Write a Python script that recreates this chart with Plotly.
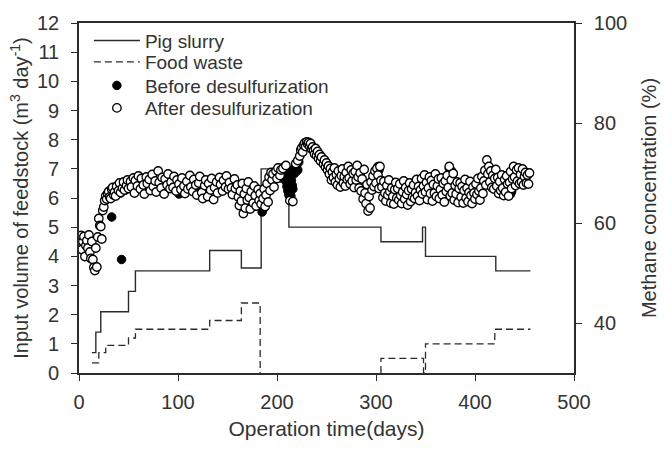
import plotly.graph_objects as go

# ---- Feedstock step series (left axis, m3/day) ----
pig_days = [13, 17, 22, 50, 57, 132, 164, 184, 212, 305, 347, 350, 421, 456]
pig_vol = [0.7, 1.4, 2.1, 2.8, 3.5, 4.2, 3.6, 7.0, 5.0, 4.5, 5.0, 4.0, 3.5, 3.5]

# None marks the period without food waste feeding (line lies on the x axis there)
food_days = [13, 20, 27, 50, 57, 132, 164, 183, 183, 305, 305, 348, 350, 420, 456]
food_vol = [0.35, 0.7, 0.95, 1.2, 1.5, 1.8, 2.4, 0.0, None, 0.0, 0.5, 0.0, 1.0, 1.5, 1.5]

# ---- Methane concentration (right axis, %) ----
after_days = [2, 3, 4, 5, 6, 7, 8, 9, 10, 11, 12, 13, 14, 15, 16, 17, 18, 19, 20, 21, 22, 23, 24,
              25, 26, 27, 28, 29, 30, 31, 32, 33, 34, 35, 36, 37, 38, 40, 41, 42, 44, 45, 46, 48, 49, 50,
              52, 53, 55, 56, 57, 59, 60, 62, 63, 65, 66, 68, 69, 71, 72, 74, 75, 77, 78, 80, 81, 83, 84,
              86, 87, 89, 90, 92, 93, 95, 96, 98, 99,
              101, 103, 104, 106, 107, 109, 110, 112, 113, 115, 116, 118, 119, 121, 122, 124, 125, 127,
              128, 130, 131, 133, 134, 136, 137, 139, 140, 142, 143, 145, 146, 148, 149, 151, 152, 154,
              155, 157, 158,
              160, 161, 162, 163, 164, 165, 166, 167, 168, 169, 170, 171, 172, 173, 174, 176, 177, 178,
              179, 181, 182, 183, 184,
              186, 187, 188, 189, 190, 191, 192, 193, 194, 195, 196, 197, 199, 200, 201, 203, 204,
              206, 209, 213, 216, 219, 221,
              223, 224, 225, 226, 227, 228, 229, 230, 231, 232, 233, 234, 235, 236, 237, 238, 239, 240,
              241, 242, 243, 244, 245, 247, 248,
              249, 250, 251, 252, 253, 254, 255, 256, 257, 258, 259, 260, 261, 262, 263, 264, 265, 266,
              267, 268, 269, 270, 271, 272, 273, 274, 275, 276, 277, 278, 279, 280, 281, 282, 283, 284,
              285, 286, 287, 288, 289, 290, 291, 292, 293, 294, 295, 296, 297, 298, 299, 300, 301, 302,
              303, 304, 305,
              306, 307, 308, 309, 310, 311, 312, 313, 314, 315, 316, 317, 318, 319, 320, 321, 322, 323,
              324, 325, 326, 327, 328, 329, 330, 331, 332, 333, 334, 335, 336, 337, 338, 339, 340, 341,
              342, 343, 344, 345, 346, 347, 348,
              349, 350, 351, 352, 353, 354, 355, 356, 357, 358, 359, 360, 361, 362, 363, 364, 365, 366,
              367, 368, 369, 370, 371, 372, 373, 374, 375, 376, 377, 378, 379, 380, 381, 382, 383, 384,
              385, 386, 387, 388, 389, 390, 391, 392, 393, 394, 395, 396, 397, 398, 399, 400, 401, 402,
              403, 404, 405,
              406, 407, 408, 409, 410, 411, 412, 413, 414, 415, 416, 417, 418, 419, 420, 421, 422, 423,
              424, 425, 426, 427, 428, 429, 430, 431, 432, 433, 434, 435, 436, 437, 438, 439, 440, 441,
              442, 443, 444, 445, 446, 447, 448, 449, 450, 451, 452, 453, 454, 455]
after_ch4 = [57.5, 54.7, 56.3, 57.3, 53.3, 55.5, 56.5, 55.0, 57.6, 54.2, 52.9, 56.3, 52.7, 51.1, 50.5,
             55.0, 51.2, 57.2, 60.9, 59.5, 59.3, 56.8, 62.5,
             63.2, 64.5, 65.4, 64.8, 65.9, 66.3, 65.2, 64.9, 66.8, 67.1, 65.6, 66.2, 65.4, 67.3, 66.5,
             68.0, 66.1, 67.0, 68.2, 66.6, 67.5, 68.6, 66.9,
             68.3, 67.2, 69.0, 66.0, 68.5, 67.4, 69.4, 66.8, 68.9, 67.6, 65.8, 69.2, 67.9, 68.7, 66.5,
             69.7, 67.3, 68.4, 66.2, 70.4, 68.1, 67.0, 69.1, 65.8, 68.8, 67.6, 69.8, 66.9, 68.2, 67.1,
             69.3, 66.4, 68.6,
             67.8, 66.7, 69.0, 67.4, 65.9, 68.3, 66.8, 69.5, 67.2, 66.3, 68.7, 67.6, 65.6, 68.0, 69.3,
             66.1, 64.9, 67.5, 68.6, 65.3, 67.9, 66.6, 68.9, 64.7, 67.1, 68.2, 66.0, 69.1, 67.7, 66.4,
             68.5, 67.2, 69.4, 66.8, 68.1, 67.0, 65.7, 68.8, 66.9,
             67.6, 65.2, 63.5, 66.4, 64.4, 67.9, 61.9, 65.8, 63.0, 66.9, 64.6, 68.2, 65.1, 62.8, 66.3,
             64.0, 67.4, 65.5, 63.4, 66.7, 64.5, 65.9, 63.8,
             64.9, 66.8, 63.3, 65.6, 67.9, 64.2, 69.2, 66.5, 70.1, 68.6, 69.8, 67.2, 70.4, 68.9, 71.0,
             69.5, 70.6,
             70.9, 71.5, 64.5, 64.3, 71.9, 72.5,
             73.4, 74.6, 75.0, 74.2, 75.6, 76.0, 75.3, 76.2, 75.8, 76.1, 75.4, 75.9, 74.8, 75.2, 74.5,
             73.8, 74.9, 73.5, 74.3, 72.9, 73.7, 72.4, 73.2, 71.8, 72.6,
             71.2, 72.0, 70.6, 71.4, 69.8, 70.9, 68.6, 70.2, 69.1, 71.0, 68.2, 69.7, 67.6, 70.4, 68.9,
             67.2, 69.5, 70.8, 68.0, 69.3, 67.4, 70.1, 68.7, 71.3, 69.0, 67.8, 70.6, 68.4, 69.9, 67.1,
             70.3, 68.6, 71.5, 69.2, 67.0, 70.0, 66.4, 68.8, 64.8, 70.7, 66.0, 63.9, 67.7, 62.4, 65.3,
             63.0, 68.2, 66.6, 69.4, 67.3, 70.4, 68.0, 70.9, 69.6, 66.9, 71.3, 68.5,
             67.2, 65.1, 68.3, 66.0, 64.4, 67.5, 65.6, 68.6, 66.3, 64.0, 67.0, 65.3, 63.8, 66.7, 68.1,
             65.0, 66.9, 64.6, 67.8, 65.5, 63.9, 66.2, 68.4, 64.8, 67.1, 65.7, 63.6, 66.5, 68.0, 64.3,
             66.8, 65.2, 67.6, 64.9, 66.1, 68.7, 65.4, 67.3, 64.5, 66.6, 68.9, 65.8, 67.4,
             69.6, 66.2, 68.1, 64.7, 67.0, 69.2, 65.9, 68.5, 64.4, 67.7, 66.0, 69.8, 65.3, 67.4, 68.8,
             64.9, 66.7, 69.0, 65.6, 67.9, 64.2, 68.4, 66.3, 69.5, 67.1, 71.3, 65.4, 68.6, 66.0, 69.9,
             64.6, 67.5, 65.8, 68.2, 64.1, 66.9, 68.0, 65.2, 67.3, 64.0, 66.5, 68.7, 65.0, 67.0, 64.3,
             66.1, 68.3, 65.5, 63.9, 67.2, 66.0, 64.8, 67.8, 65.7, 68.9, 66.4, 64.6,
             67.0, 69.3, 65.9, 68.4, 70.5, 67.6, 72.6, 69.8, 71.3, 68.2, 70.4, 67.1, 69.5, 66.8, 68.9,
             70.7, 67.4, 69.1, 65.9, 68.3, 66.5, 69.6, 67.0, 65.5, 68.7, 66.2, 69.4, 67.8, 65.4, 68.1,
             70.3, 66.9, 68.8, 71.3, 69.2, 67.5, 70.6, 68.4, 71.0, 67.9, 69.7, 68.2, 70.8, 67.6, 69.3,
             70.1, 68.0, 69.6, 67.8, 70.0]

before_days = [33, 43, 38, 40, 42, 45, 47, 62, 66, 70, 101, 118, 140, 170, 183, 185, 187,
               203, 204, 205, 206, 207, 208, 209, 209.5, 210, 210.5, 211, 211.5, 212, 212.5, 213,
               213.5, 214, 214.5, 215, 215.5, 216, 217, 218, 219, 220, 221, 222,
               230, 245, 258, 270, 302, 303, 312, 330, 345, 356, 374, 376, 392, 402, 418, 436, 437, 448]
before_ch4 = [61.2, 52.7, 67.4, 66.5, 66.0, 67.2, 66.6, 68.3, 68.9, 67.8, 65.8, 67.0, 66.4, 65.0,
              64.5, 62.2, 63.0,
              70.2, 69.0, 71.0, 70.5, 69.6, 71.3, 70.0, 68.2, 67.3, 69.4, 66.4, 68.0, 65.6, 67.0, 69.2,
              66.0, 65.4, 68.5, 70.4, 67.5, 66.8, 69.8, 71.0, 70.2, 71.6, 70.6, 72.2,
              75.8, 72.9, 70.6, 69.4, 71.3, 70.6, 66.5, 66.0, 66.8, 67.2, 71.0, 70.5, 66.4, 66.1, 68.0,
              65.8, 66.3, 68.5]

x_ticks = [0, 100, 200, 300, 400, 500]
y_ticks = list(range(0, 13))
y2_ticks = [40, 60, 80, 100]

INK = "#2b2b2b"
TXT = "#333333"
FONT = "Liberation Sans, Arial, sans-serif"

fig = go.Figure()
fig.add_trace(go.Scatter(x=pig_days, y=pig_vol, mode="lines", line_shape="hv",
                         line=dict(color=INK, width=1.4), name="Pig slurry", legend="legend"))
fig.add_trace(go.Scatter(x=food_days, y=food_vol, mode="lines", line_shape="hv",
                         connectgaps=False,
                         line=dict(color=INK, width=1.3, dash="7px,4px"), name="Food waste",
                         legend="legend2"))
fig.add_trace(go.Scatter(x=before_days, y=before_ch4, mode="markers", yaxis="y2",
                         marker=dict(symbol="circle", size=8.5, color="black",
                                     line=dict(color="black", width=1)),
                         name="Before desulfurization", legend="legend3"))
fig.add_trace(go.Scatter(x=after_days, y=after_ch4, mode="markers", yaxis="y2",
                         marker=dict(symbol="circle", size=8.5, color="white",
                                     line=dict(color="black", width=1.3)),
                         name="After desulfurization", legend="legend4"))

axis_common = dict(showgrid=False, zeroline=False, showline=True, linecolor=INK, linewidth=1.6,
                   ticks="outside", ticklen=6, tickwidth=1.3, tickcolor=INK,
                   tickfont=dict(family=FONT, size=20, color=TXT))

def leg(row_px):
    return dict(x=0.02, y=1 - (row_px - 15) / 358, xanchor="left", yanchor="middle",
                bgcolor="rgba(0,0,0,0)", borderwidth=0, itemwidth=46,
                font=dict(family=FONT, size=19, color=TXT))

fig.update_layout(
    width=672, height=454,
    margin=dict(l=79, r=98, t=15, b=81),
    paper_bgcolor="white", plot_bgcolor="white",
    font=dict(family=FONT, color=TXT),
    xaxis=dict(range=[0, 500], tickvals=x_ticks, mirror=True, ticklabelstandoff=4,
               title=dict(text="Operation time(days)", font=dict(family=FONT, size=21, color=TXT),
                          standoff=10),
               **axis_common),
    yaxis=dict(range=[0, 12], tickvals=y_ticks, ticklabelstandoff=8,
               title=dict(text="Input volume of feedstock (m<sup>3</sup> day<sup>-1</sup>)",
                          font=dict(family=FONT, size=20, color=TXT), standoff=3),
               **axis_common),
    yaxis2=dict(range=[30, 100], tickvals=y2_ticks, overlaying="y", side="right",
                ticklabelstandoff=8,
                title=dict(text="Methane concentration (%)",
                           font=dict(family=FONT, size=20, color=TXT), standoff=16),
                **axis_common),
    legend=leg(33),
    legend2=leg(55),
    legend3=leg(79),
    legend4=leg(102),
    showlegend=True,
)

fig.write_html("out.html")
